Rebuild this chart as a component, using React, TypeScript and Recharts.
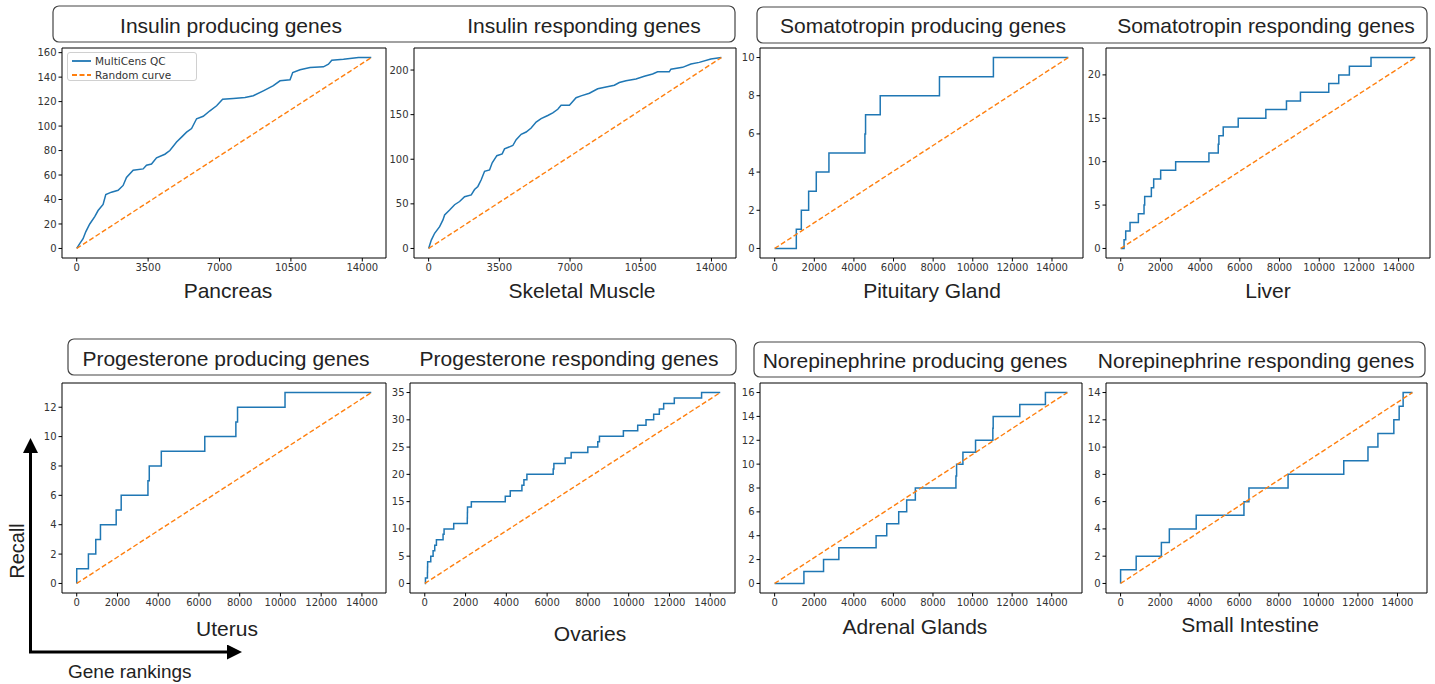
import React from 'react'
import { LineChart, Line, XAxis, YAxis, ReferenceArea, Legend } from 'recharts'

const BLUE = '#1f77b4'
const ORANGE = '#ff7f0e'
const TICK_FONT = { fontSize: 10, fill: '#333', fontFamily: 'DejaVu Sans, sans-serif' }
const LABEL_FONT = 'Liberation Sans, Arial, sans-serif'

// curves, [rank, recall]
const pancreasCurve = [
  [0, 0], [147, 4], [311, 8], [442, 13.6], [638, 20], [884, 26], [1047, 31], [1293, 36],
  [1424, 44], [1702, 46], [2029, 47.5], [2275, 51.5], [2439, 58], [2766, 64], [3257, 65],
  [3421, 68], [3666, 69], [3912, 74], [4321, 77], [4566, 80], [4894, 87], [5139, 91],
  [5385, 95], [5630, 98], [5876, 106], [6203, 108], [6530, 112.5], [6858, 116.6],
  [7152, 122], [7676, 122.6], [8249, 123.4], [8658, 124.8], [9149, 128.8], [9640, 133],
  [9967, 137], [10458, 137.8], [10589, 143.7], [10949, 146], [11440, 147.8], [12095, 148.4],
  [12340, 150.5], [12504, 153.8], [13077, 154.6], [13813, 156], [14440, 156],
]
const muscleCurve = [
  [0, 0], [132, 9.4], [297, 17], [544, 24.4], [708, 32], [791, 37.6], [1038, 43], [1285, 49],
  [1532, 52.6], [1779, 58], [2109, 60], [2273, 66], [2438, 69.5], [2603, 77], [2768, 86.5],
  [3015, 88], [3147, 96], [3377, 104], [3641, 106], [3756, 111.6], [4168, 115.4], [4333, 122],
  [4580, 128], [4827, 130.5], [5074, 135], [5321, 141.7], [5568, 145.5], [5898, 149],
  [6145, 152], [6392, 156], [6557, 160.5], [6969, 160.5], [7298, 169], [7545, 171],
  [7957, 174], [8369, 179], [8781, 181], [9193, 183], [9440, 186], [9769, 188], [10264, 190],
  [10675, 193], [11087, 195.5], [11334, 198], [11911, 198], [11993, 201], [12570, 203],
  [12982, 206.8], [13394, 208.6], [13970, 212.4], [14490, 214],
]

// step curves: rank of each recovered gene
const pituitaryHits = [1092, 1345, 1714, 2100, 2739, 4555, 4588, 5328, 8319, 11042]
const liverHits = [
  168, 251, 469, 889, 1174, 1207, 1543, 1660, 2012, 2767, 4443, 4913, 4946, 5164, 5919,
  7311, 8350, 9054, 10480, 10983, 11519, 12609,
]
const uterusHits = [0, 574, 935, 1165, 1937, 2183, 3496, 3561, 4152, 6286, 7812, 7894, 10225]
const ovariesHits = [
  33, 130, 135, 140, 294, 408, 489, 571, 897, 946, 1419, 2085, 2090, 2095, 2284, 3948, 4193,
  4764, 4862, 5009, 6298, 6331, 6885, 7179, 7995, 8484, 8566, 9740, 10442, 10850, 11225,
  11503, 11715, 12237, 13575,
]
const adrenalHits = [
  1479, 2471, 3244, 5126, 5664, 6269, 6672, 7109, 9160, 9193, 9513, 10151, 11025, 11042,
  12387, 13681,
]
const intestineHits = [0, 788, 2062, 2465, 3823, 6237, 6489, 8468, 11284, 12508, 13011, 13816, 14085, 14286]

const geneTotals = [14440, 14490, 14824, 14839, 14459, 14489, 14790, 14755]
const tissues = [
  'Pancreas', 'Skeletal Muscle', 'Pituitary Gland', 'Liver',
  'Uterus', 'Ovaries', 'Adrenal Glands', 'Small Intestine',
]
const titles = [
  'Insulin producing genes', 'Insulin responding genes',
  'Somatotropin producing genes', 'Somatotropin responding genes',
  'Progesterone producing genes', 'Progesterone responding genes',
  'Norepinephrine producing genes', 'Norepinephrine responding genes',
]
const ticks3500 = [0, 3500, 7000, 10500, 14000]
const ticks2000 = [0, 2000, 4000, 6000, 8000, 10000, 12000, 14000]
const yTickSets = [
  [0, 20, 40, 60, 80, 100, 120, 140, 160],
  [0, 50, 100, 150, 200],
  [0, 2, 4, 6, 8, 10],
  [0, 5, 10, 15, 20],
  [0, 2, 4, 6, 8, 10, 12],
  [0, 5, 10, 15, 20, 25, 30, 35],
  [0, 2, 4, 6, 8, 10, 12, 14, 16],
  [0, 2, 4, 6, 8, 10, 12, 14],
]
const seriesNames = ['MultiCens QC', 'Random curve']

type Pt = { x: number; y: number }

const fromPairs = (pairs: number[][]): Pt[] => pairs.map(([x, y]) => ({ x, y }))
const fromHits = (hits: number[], total: number): Pt[] => [
  { x: 0, y: 0 },
  ...hits.map((h, i) => ({ x: h, y: i + 1 })),
  { x: total, y: hits.length },
]

const curves: Pt[][] = [
  fromPairs(pancreasCurve),
  fromPairs(muscleCurve),
  fromHits(pituitaryHits, geneTotals[2]),
  fromHits(liverHits, geneTotals[3]),
  fromHits(uterusHits, geneTotals[4]),
  fromHits(ovariesHits, geneTotals[5]),
  fromHits(adrenalHits, geneTotals[6]),
  fromHits(intestineHits, geneTotals[7]),
]

// plot frames on the page: left, top, width, height
const frames = [
  [62, 48, 324, 210], [414, 48, 322, 210], [760, 48, 323, 210], [1106, 48, 324, 210],
  [62, 383, 324, 210], [410, 383, 325, 210], [760, 383, 322, 210], [1106, 383, 321, 210],
]
const labelPos = [
  [228, 298], [582, 298], [932, 298], [1268, 298],
  [227, 636], [590, 641], [915, 634], [1250, 632],
]
const titlePos = [
  [231, 33], [584, 33], [923, 33], [1266, 33],
  [226, 366], [569, 366], [915, 368], [1256, 368],
]
const boxes = [
  [53, 6, 682, 36], [757, 7, 670, 36], [68, 339, 668, 36], [754, 342, 671, 35],
]

const YW = 40
const MT = 5
const MR = 5
const XH = 30

function LegendBox({ payload }: any) {
  const items = payload && payload.length ? payload : seriesNames.map((n) => ({ value: n }))
  return (
    <div
      style={{
        width: 130,
        height: 29,
        border: '1px solid #d0d0d0',
        borderRadius: 3,
        background: 'rgba(255,255,255,0.8)',
        fontFamily: 'DejaVu Sans, sans-serif',
        fontSize: 10.5,
        color: '#333',
        padding: '1px 0 0 3px',
        boxSizing: 'border-box',
      }}
    >
      {items.map((it: any, i: number) => (
        <div key={i} style={{ display: 'flex', alignItems: 'center', height: 14 }}>
          <svg width={22} height={10}>
            <line
              x1={1}
              x2={20}
              y1={5}
              y2={5}
              stroke={i === 0 ? BLUE : ORANGE}
              strokeWidth={1.8}
              strokeDasharray={i === 0 ? undefined : '5 2.5'}
            />
          </svg>
          <span style={{ marginLeft: 2 }}>{it.value}</span>
        </div>
      ))}
    </div>
  )
}

function Panel({ i }: { i: number }) {
  const [left, top, w, h] = frames[i]
  const total = geneTotals[i]
  const curve = curves[i]
  const yMax = curve[curve.length - 1].y
  const xDom = [-0.05 * total, 1.05 * total]
  const yDom = [-0.05 * yMax, 1.05 * yMax]
  const random = [{ x: 0, y: 0 }, { x: total, y: yMax }]
  const step = i >= 2
  return (
    <div style={{ position: 'absolute', left: left - YW, top: top - MT }}>
      <LineChart
        width={w + YW + MR}
        height={h + MT + XH}
        margin={{ top: MT, right: MR, bottom: 0, left: 0 }}
      >
        <XAxis
          dataKey="x"
          type="number"
          domain={xDom}
          ticks={i < 2 ? ticks3500 : ticks2000}
          interval={0}
          allowDataOverflow
          axisLine={false}
          tickLine={{ stroke: '#000' }}
          tickSize={3.5}
          tickMargin={2}
          tick={TICK_FONT}
          height={XH}
        />
        <YAxis
          type="number"
          domain={yDom}
          ticks={yTickSets[i]}
          interval={0}
          allowDataOverflow
          axisLine={false}
          tickLine={{ stroke: '#000' }}
          tickSize={3.5}
          tickMargin={2}
          tick={TICK_FONT}
          width={YW}
        />
        <ReferenceArea
          x1={xDom[0]}
          x2={xDom[1]}
          y1={yDom[0]}
          y2={yDom[1]}
          fill="#fff"
          fillOpacity={0}
          stroke="#000"
          strokeWidth={1}
          ifOverflow="visible"
        />
        <Line
          data={curve}
          dataKey="y"
          name={seriesNames[0]}
          type={step ? 'stepAfter' : 'linear'}
          stroke={BLUE}
          strokeWidth={1.5}
          dot={false}
          isAnimationActive={false}
        />
        <Line
          data={random}
          dataKey="y"
          name={seriesNames[1]}
          type="linear"
          stroke={ORANGE}
          strokeWidth={1.4}
          strokeDasharray="5 2.5"
          dot={false}
          isAnimationActive={false}
        />
        {i === 0 && (
          <Legend
            layout="horizontal"
            verticalAlign="middle"
            align="center"
            content={<LegendBox />}
            wrapperStyle={{ left: 45, top: 9, width: 132 }}
          />
        )}
      </LineChart>
    </div>
  )
}

export default function App() {
  return (
    <div
      style={{
        position: 'absolute',
        left: 0,
        top: 0,
        width: 1435,
        height: 684,
        background: '#fff',
        overflow: 'hidden',
      }}
    >
      {frames.map((_, i) => (
        <Panel key={i} i={i} />
      ))}
      <svg
        width={1435}
        height={684}
        style={{ position: 'absolute', left: 0, top: 0, pointerEvents: 'none' }}
      >
        <defs>
          <marker id="head" markerWidth="5" markerHeight="5" refX="1" refY="2.5" orient="auto" markerUnits="strokeWidth">
            <path d="M0,0 L5,2.5 L0,5 z" fill="#000" />
          </marker>
        </defs>
        {boxes.map(([x, y, bw, bh], k) => (
          <rect key={k} x={x} y={y} width={bw} height={bh} rx={6} fill="none" stroke="#444" strokeWidth={1.2} />
        ))}
        {titles.map((t, k) => (
          <text
            key={t}
            x={titlePos[k][0]}
            y={titlePos[k][1]}
            textAnchor="middle"
            fontFamily={LABEL_FONT}
            fontSize={21}
            fill="#222"
          >
            {t}
          </text>
        ))}
        {tissues.map((t, k) => (
          <text
            key={t}
            x={labelPos[k][0]}
            y={labelPos[k][1]}
            textAnchor="middle"
            fontFamily={LABEL_FONT}
            fontSize={21}
            fill="#222"
          >
            {t}
          </text>
        ))}
        <line x1={30.5} y1={653} x2={30.5} y2={450} stroke="#000" strokeWidth={3} markerEnd="url(#head)" />
        <line x1={29} y1={652} x2={230} y2={652} stroke="#000" strokeWidth={3} markerEnd="url(#head)" />
        <text
          x={24}
          y={551}
          transform="rotate(-90 24 551)"
          textAnchor="middle"
          fontFamily={LABEL_FONT}
          fontSize={20}
          fill="#222"
        >
          Recall
        </text>
        <text x={68} y={678} fontFamily={LABEL_FONT} fontSize={19} fill="#222">
          Gene rankings
        </text>
      </svg>
    </div>
  )
}
